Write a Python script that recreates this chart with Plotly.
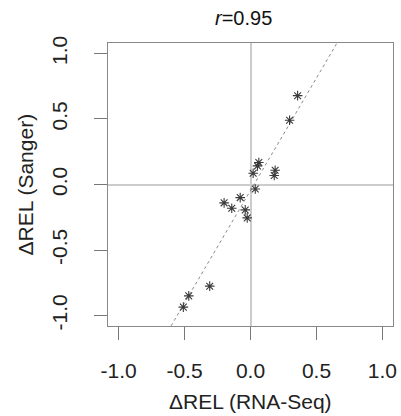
import numpy as np
import plotly.graph_objects as go

rna_seq = [0.357, 0.296, 0.063, 0.053, 0.020, 0.187, 0.180, 0.036,
           -0.078, -0.200, -0.142, -0.040, -0.025, -0.309, -0.468, -0.509]
sanger = [0.678, 0.490, 0.168, 0.142, 0.086, 0.109, 0.069, -0.034,
          -0.100, -0.140, -0.181, -0.194, -0.255, -0.776, -0.850, -0.936]
tick_vals = [-1.0, -0.5, 0.0, 0.5, 1.0]
tick_text = ["-1.0", "-0.5", "0.0", "0.5", "1.0"]
r_label = "<i>r</i>=0.95"

slope, intercept = np.polyfit(rna_seq, sanger, 1)
fit_x = [-1.2, 1.2]
fit_y = [intercept + slope * v for v in fit_x]

FONT = "Liberation Sans, Arial, sans-serif"
rng = [-1.08, 1.08]

fig = go.Figure()
fig.add_trace(go.Scatter(x=fit_x, y=fit_y, mode="lines",
                         line=dict(color="#8a8a8a", width=1, dash="3px,3px"),
                         hoverinfo="skip", showlegend=False))
fig.add_trace(go.Scatter(x=rna_seq, y=sanger, mode="markers",
                         marker=dict(symbol="asterisk-open", size=8, color="#3a3a3a",
                                     line=dict(color="#3a3a3a", width=1.1)),
                         showlegend=False))

axis_common = dict(range=rng, autorange=False, tickvals=tick_vals, ticktext=tick_text,
                   ticks="outside", ticklen=13, tickcolor="#777777", tickwidth=1,
                   showline=True, mirror=True, linecolor="#888888", linewidth=1,
                   showgrid=False, zeroline=True, zerolinecolor="#cccccc", zerolinewidth=1.5,
                   automargin=False,
                   tickfont=dict(family=FONT, size=21, color="#222222"))

fig.update_xaxes(**axis_common, ticklabelstandoff=13)
fig.update_yaxes(**axis_common, tickangle=-90, ticklabelstandoff=19)

fig.add_annotation(text=r_label, xref="paper", yref="paper", x=(243 - 108) / 285,
                   y=1 + 25 / 283, showarrow=False, xanchor="center", yanchor="middle",
                   font=dict(family=FONT, size=20, color="#111111"))
fig.add_annotation(text="ΔREL (RNA-Seq)", xref="paper", yref="paper", x=0.5,
                   y=-(401.7 - 326) / 283, showarrow=False, xanchor="center", yanchor="middle",
                   font=dict(family=FONT, size=21, color="#222222"))
fig.add_annotation(text="ΔREL (Sanger)", xref="paper", yref="paper", x=-(108 - 25) / 285,
                   y=0.5, showarrow=False, xanchor="center", yanchor="middle", textangle=-90,
                   font=dict(family=FONT, size=21, color="#222222"))

fig.update_layout(width=401, height=416, margin=dict(l=108, r=8, t=43, b=90),
                  plot_bgcolor="white", paper_bgcolor="white", showlegend=False)
fig.write_html("out.html", config={"displayModeBar": False},
               post_script="document.body.style.margin='0';document.body.style.overflow='hidden';")
